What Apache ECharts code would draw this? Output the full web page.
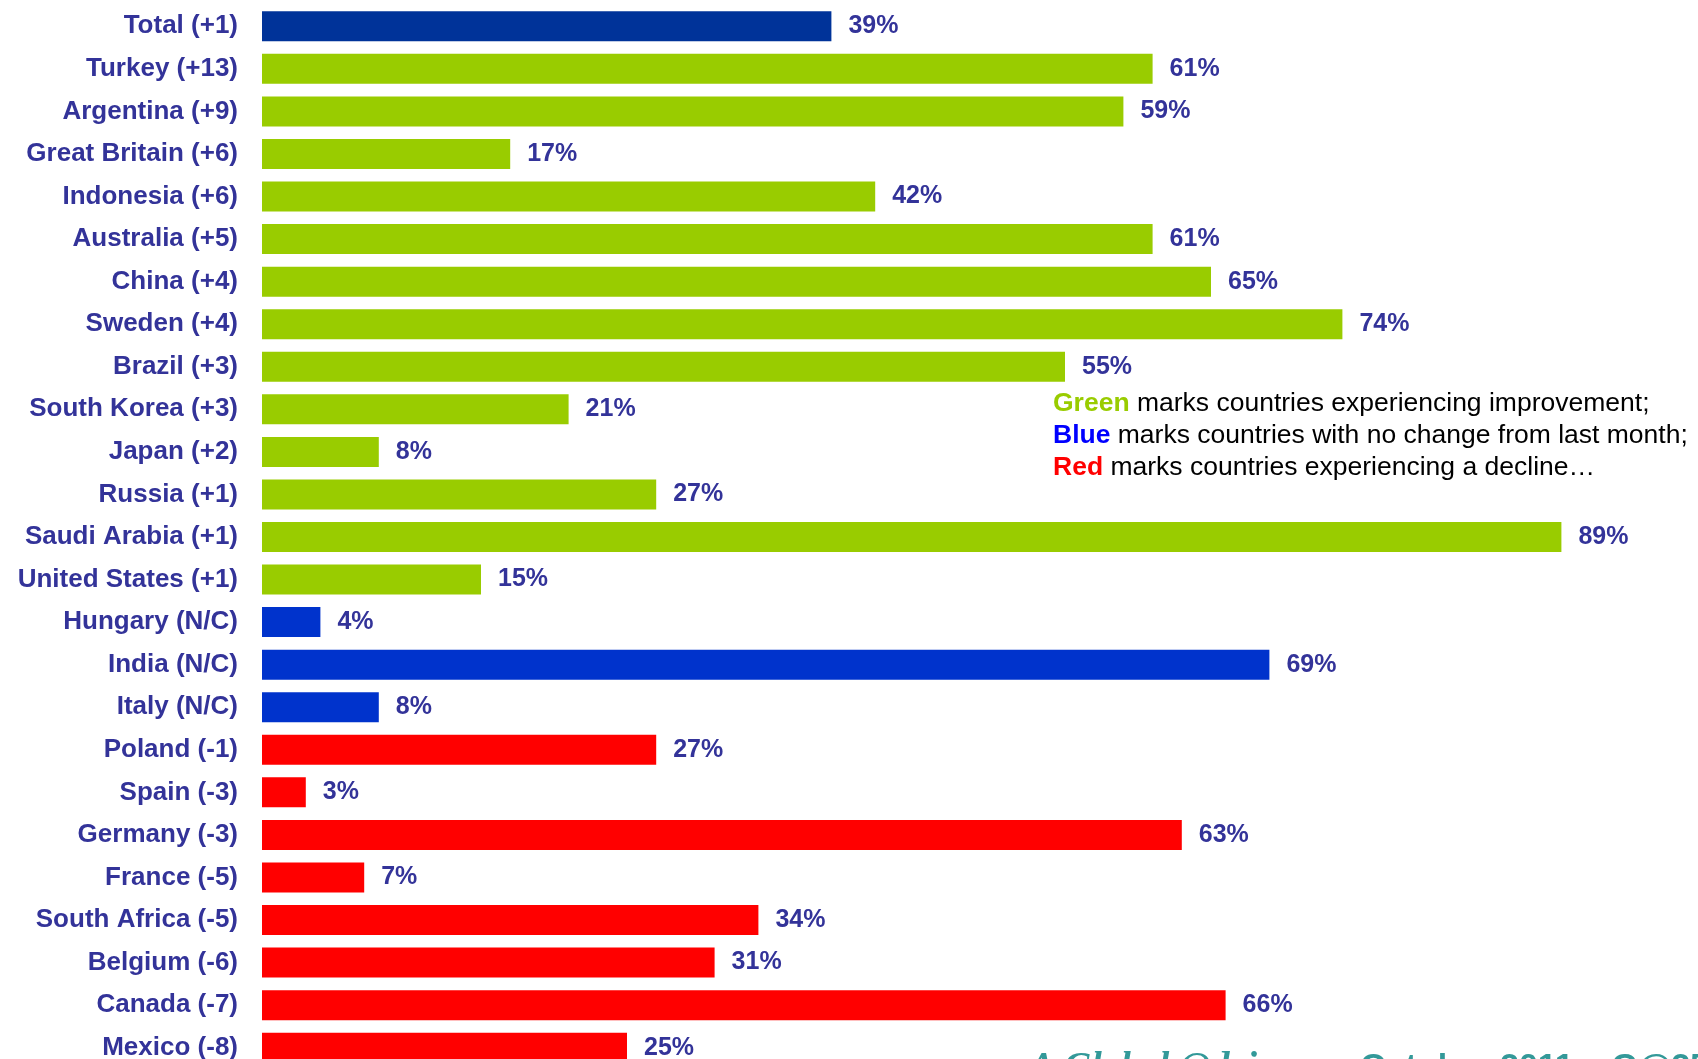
<!DOCTYPE html>
<html>
<head>
    <meta charset="utf-8">
    <title>ECharts</title>
    <script src="https://cdn.jsdelivr.net/npm/echarts@6/dist/echarts.min.js"></script>
    <style>
        html, body { margin: 0; padding: 0; background: #fff; }
    </style>
</head>
<body>
    <div id="main" style="width: 1698px;height:1059px;"></div>

    <script type="text/javascript">
        // categories, top to bottom
        var countries = ['Total (+1)', 'Turkey (+13)', 'Argentina (+9)', 'Great Britain (+6)', 'Indonesia (+6)',
            'Australia (+5)', 'China (+4)', 'Sweden (+4)', 'Brazil (+3)', 'South Korea (+3)', 'Japan (+2)',
            'Russia (+1)', 'Saudi Arabia (+1)', 'United States (+1)', 'Hungary (N/C)', 'India (N/C)',
            'Italy (N/C)', 'Poland (-1)', 'Spain (-3)', 'Germany (-3)', 'France (-5)', 'South Africa (-5)',
            'Belgium (-6)', 'Canada (-7)', 'Mexico (-8)'];
        var values = [39, 61, 59, 17, 42, 61, 65, 74, 55, 21, 8, 27, 89, 15, 4, 69, 8, 27, 3, 63, 7, 34, 31, 66, 25];
        // t = total, g = improvement, b = no change, r = decline
        var trend = ['t', 'g', 'g', 'g', 'g', 'g', 'g', 'g', 'g', 'g', 'g', 'g', 'g', 'g',
            'b', 'b', 'b', 'r', 'r', 'r', 'r', 'r', 'r', 'r', 'r'];

        var colors = { t: '#003399', g: '#99CC00', b: '#0033CC', r: '#FF0000' };

        var myChart = echarts.init(document.getElementById('main'));

        var barData = values.map(function (v, i) {
            return { value: v, itemStyle: { color: colors[trend[i]] } };
        });

        var option = {
            animation: false,
            textStyle: { fontFamily: 'Liberation Sans, Arial, sans-serif' },
            grid: {
                left: 262,
                top: 5,
                width: 1460,
                height: 1064,
                outerBoundsMode: 'none',
                containLabel: false
            },
            xAxis: {
                type: 'value',
                min: 0,
                max: 100,
                show: false
            },
            yAxis: {
                type: 'category',
                inverse: true,
                data: countries,
                axisLine: { show: false },
                axisTick: { show: false },
                axisLabel: {
                    margin: 24,
                    color: '#333399',
                    fontSize: 26,
                    fontWeight: 'bold'
                }
            },
            series: [{
                type: 'bar',
                data: barData,
                barWidth: 30,
                label: {
                    show: true,
                    position: 'right',
                    distance: 17,
                    formatter: '{c}%',
                    color: '#333399',
                    fontSize: 25,
                    fontWeight: 'bold'
                }
            }],
            graphic: [{
                type: 'text',
                left: 1053,
                top: 388,
                style: {
                    text: '{g|Green} marks countries experiencing improvement;\n' +
                        '{b|Blue} marks countries with no change from last month;\n' +
                        '{r|Red} marks countries experiencing a decline\u2026',
                    font: '26.5px Liberation Sans, Arial, sans-serif',
                    fill: '#000',
                    lineHeight: 32,
                    rich: {
                        g: { fill: '#99CC00', fontWeight: 'bold', fontSize: 26.5, lineHeight: 32 },
                        b: { fill: '#0000FF', fontWeight: 'bold', fontSize: 26.5, lineHeight: 32 },
                        r: { fill: '#FF0000', fontWeight: 'bold', fontSize: 26.5, lineHeight: 32 }
                    }
                }
            }, {
                type: 'text',
                left: 1029,
                top: 1049,
                style: {
                    text: '{a|A Global @dvisory} \u2013 October 2011 \u2013 G@25',
                    font: 'bold 34px Liberation Sans, Arial, sans-serif',
                    fill: '#339999',
                    lineHeight: 36,
                    rich: {
                        a: {
                            fontFamily: 'Liberation Serif, serif',
                            fontStyle: 'italic',
                            fontWeight: 'bold',
                            fontSize: 38,
                            lineHeight: 36,
                            fill: '#339999'
                        }
                    }
                }
            }]
        };

        myChart.setOption(option);
    </script>
</body>
</html>
